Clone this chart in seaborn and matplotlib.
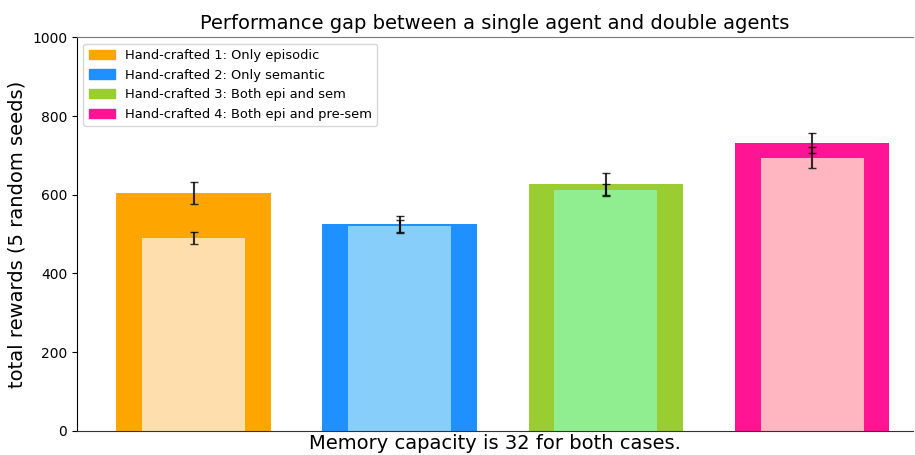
import numpy as np
import pandas as pd
import matplotlib
matplotlib.use("Agg")
import matplotlib.pyplot as plt
import matplotlib.patches as mpatches
import seaborn as sns

# data
labels = ['Hand-crafted 1: Only episodic', 'Hand-crafted 2: Only semantic',
          'Hand-crafted 3: Both epi and sem', 'Hand-crafted 4: Both epi and pre-sem']
double_mean = [604, 525, 627, 731]
double_std = [28, 20, 28, 25]
single_mean = [490, 520, 612, 694]
single_std = [16, 16, 15, 27]

outer_colors = ['orange', 'dodgerblue', 'yellowgreen', 'deeppink']
inner_colors = ['navajowhite', 'lightskyblue', 'lightgreen', 'lightpink']

df = pd.DataFrame({'label': labels, 'double': double_mean, 'single': single_mean})

# plain matplotlib look, no seaborn theme
plt.rcParams['font.family'] = ['DejaVu Sans']
fig, ax = plt.subplots(figsize=(9.15, 4.55), dpi=100)

_ = sns.barplot(data=df, x='label', y='double', hue='label', palette=outer_colors,
                width=0.75, saturation=1, legend=False, ax=ax, errorbar=None,
                linewidth=0)
_ = sns.barplot(data=df, x='label', y='single', hue='label', palette=inner_colors,
                width=0.5, saturation=1, legend=False, ax=ax, errorbar=None,
                linewidth=0)

xs = np.arange(len(labels))
_ = ax.errorbar(xs, double_mean, yerr=double_std, fmt='none', ecolor='black',
                elinewidth=1.5, capsize=3, alpha=0.8)
_ = ax.errorbar(xs, single_mean, yerr=single_std, fmt='none', ecolor='black',
                elinewidth=1.5, capsize=3, alpha=0.8)

handles = [mpatches.Patch(color=c, label=l) for c, l in zip(outer_colors, labels)]
_ = ax.legend(handles=handles, loc='upper left', fontsize=9.4)

_ = ax.set_xlim(-0.566, 3.49)
_ = ax.set_ylim(0, 1000)
_ = ax.set_yticks(range(0, 1001, 200))
_ = ax.set_xticks([])
_ = ax.tick_params(axis='y', labelsize=10)
_ = ax.set_title('Performance gap between a single agent and double agents', fontsize=14)
_ = ax.set_ylabel('total rewards (5 random seeds)', fontsize=14)
_ = ax.set_xlabel('Memory capacity is 32 for both cases.', fontsize=14, labelpad=2)

ax.spines['right'].set_visible(False)
ax.spines['top'].set_color('#777777')
ax.spines['bottom'].set_color('#333333')

fig.subplots_adjust(left=0.084, right=0.998, top=0.918, bottom=0.053)
fig.savefig('out.png', dpi=100)
